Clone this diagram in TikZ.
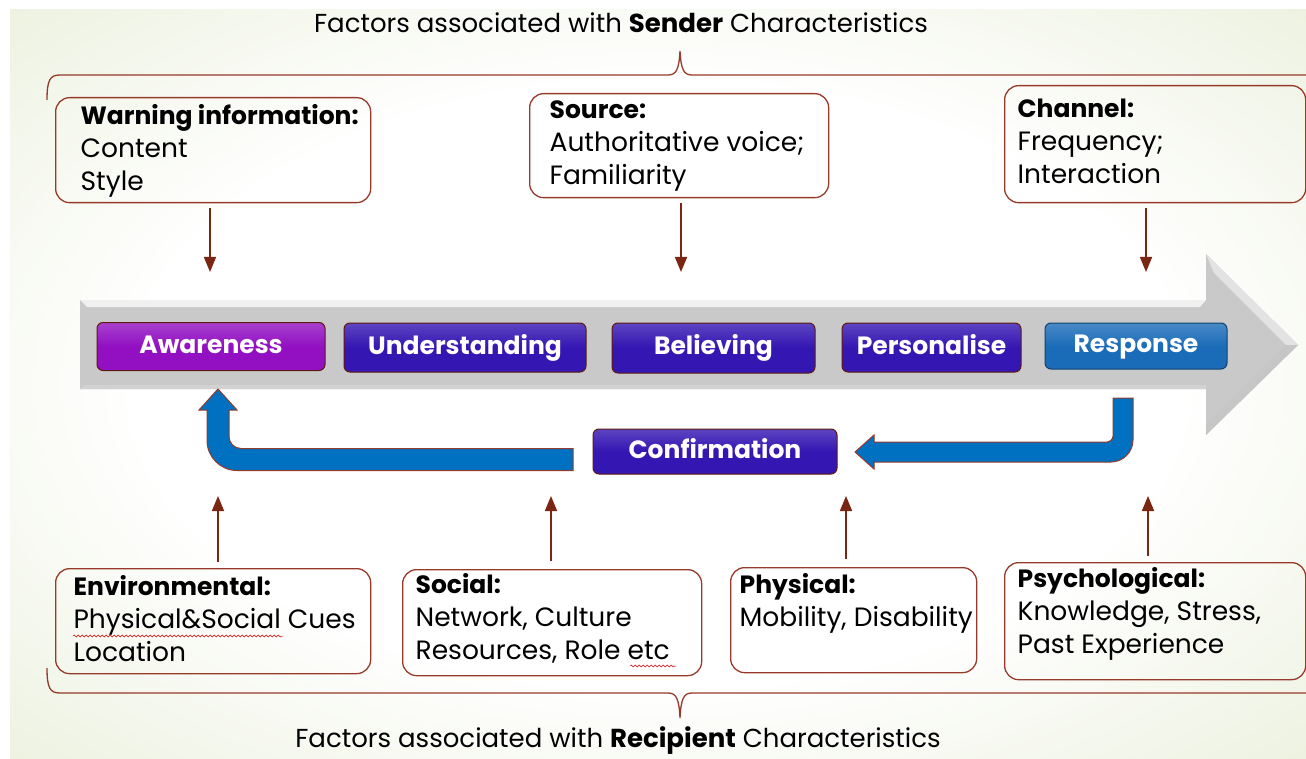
\documentclass[tikz,border=0pt]{standalone}
\usepackage{fontspec}
\setmainfont{Poppins}
\usetikzlibrary{arrows.meta, positioning, calc, decorations.pathmorphing}

\definecolor{brick}{HTML}{963A2A}
\definecolor{arrowred}{HTML}{7B2612}
\definecolor{bggreen}{HTML}{E1E9CC}
\definecolor{stagepurple}{HTML}{9210C2}
\definecolor{stageindigo}{HTML}{3416B2}
\definecolor{stageblue}{HTML}{1B6CB8}
\definecolor{stageedge}{HTML}{5C1A0E}
\definecolor{loopblue}{HTML}{0070C0}
\definecolor{shaftgray}{HTML}{C9C9C9}

\pgfdeclareradialshading{panelglow}{\pgfpoint{0bp}{0bp}}{color(0bp)=(white); color(20bp)=(white); color(46bp)=(bggreen); color(75bp)=(bggreen)}

\newcommand{\factorbody}[3]{\parbox[t][#1][t]{#2}{\raggedright\strut #3}}
\newcommand{\factorhead}[1]{\mbox{\fontsize{25}{33}\selectfont\bfseries #1}}

\tikzset{
  factor/.style={draw=brick, line width=1.3pt, rounded corners=14pt, anchor=north west,
    font=\fontsize{26.5}{33}\selectfont},
  stage/.style={draw=stageedge, line width=1pt, rounded corners=6pt, text=white, inner sep=0pt,
    text height=18pt, text depth=5pt, font=\fontsize{25}{30}\selectfont\bfseries},
  title/.style={anchor=base, font=\fontsize{26}{30}\selectfont},
  factorarrow/.style={draw=arrowred, line width=1.6pt, -{Triangle[length=15pt,width=12pt]}},
  brace/.style={draw=brick, line width=1.3pt},
  loop/.style={fill=loopblue, draw=brick, line width=1pt},
  spellcheck/.style={draw=red!85!black, line width=0.5pt, decorate,
    decoration={snake, amplitude=1pt, segment length=4pt}}
}

\begin{document}
\begin{tikzpicture}[x=1pt,y=-1pt]
	\useasboundingbox (0,0) rectangle (1306,759);
	% Background panel
	\fill[white] (0,0) rectangle (1306,759);
	\shade[shading=panelglow] (10,10) rectangle (1306,759);

	% Sender side: title and brace
	\node[title] (sendertitle) at (621,33) {Factors associated with \textbf{Sender} Characteristics};
	\draw[brace] (47,100) .. controls (47,80) and (50,75) .. (60,75) -- (668,75)
		.. controls (676,75) and (679,70) .. (680,51) .. controls (681,70) and (684,75) .. (692,75) -- (1310,75);

	% Sender factor boxes
	\node[factor, inner xsep=25pt, inner ysep=4pt] (warn) at (55,97)
		{\factorbody{97pt}{265pt}{\factorhead{Warning information:}\\Content\\Style}};
	\node[factor, inner xsep=20pt, inner ysep=2pt] (source) at (529,93)
		{\factorbody{100pt}{259pt}{\factorhead{Source:}\\\mbox{Authoritative voice;}\\Familiarity}};
	\node[factor, inner xsep=13pt, inner ysep=9pt] (channel) at (1004,85)
		{\factorbody{99pt}{275pt}{\factorhead{Channel:}\\Frequency;\\Interaction}};

	% Arrows from the sender factors
	\coordinate (tipW) at (210,272);
	\coordinate (tipS) at (681,272);
	\coordinate (tipC) at (1146,272);
	\draw[factorarrow, shorten <=5pt] (warn.south -| tipW) -- (tipW);
	\draw[factorarrow, shorten <=5pt] (source.south -| tipS) -- (tipS);
	\draw[factorarrow, shorten <=5pt] (channel.south -| tipC) -- (tipC);

	% Big grey process arrow
	\fill[shaftgray] (80,300) -- (1206,300) -- (1206,254) -- (1298,345) -- (1206,435) -- (1206,389) -- (80,389) -- cycle;
	\fill[gray!12] (80,300) -- (1206,300) -- (1200,307) -- (87,307) -- cycle;
	\fill[gray!22] (1206,254) -- (1298,345) -- (1286,345) -- (1214,273) -- cycle;
	\fill[gray!45] (1298,345) -- (1206,435) -- (1206,424) -- (1286,345) -- cycle;
	\fill[gray!35] (80,389) -- (1206,389) -- (1206,385) -- (84,385) -- cycle;

	% Stages
	\node[stage, top color=stagepurple!80!white, bottom color=stagepurple, middle color=stagepurple,
		minimum width=228pt, minimum height=48pt] (aware) at (211,346.5) {Awareness};
	\node[stage, top color=stageindigo!80!white, bottom color=stageindigo, middle color=stageindigo,
		minimum width=242pt, minimum height=49pt] (under) at (465,347.5) {Understanding};
	\node[stage, top color=stageindigo!80!white, bottom color=stageindigo, middle color=stageindigo,
		minimum width=203pt, minimum height=50pt] (believe) at (713.5,348) {Believing};
	\node[stage, top color=stageindigo!80!white, bottom color=stageindigo, middle color=stageindigo,
		minimum width=179pt, minimum height=49pt] (person) at (931.5,347.5) {Personalise};
	\node[stage, draw=stageblue!60!black, top color=stageblue!80!white, bottom color=stageblue, middle color=stageblue,
		minimum width=182pt, minimum height=46pt] (resp) at (1136,346) {Response};
	\node[stage, top color=stageindigo!80!white, bottom color=stageindigo, middle color=stageindigo,
		minimum width=244pt, minimum height=45pt] (confirm) at (715,451.5) {Confirmation};

	% Feedback loops
	\filldraw[loop] (1113,398) -- (1113,436) .. controls (1113,439.3) and (1109.7,442) .. (1107,442) -- (874,442)
		-- (874,435) -- (855,452) -- (874,469) -- (874,462) -- (1111,462)
		.. controls (1123.1,462) and (1133,452.1) .. (1133,440) -- (1133,398) -- cycle;
	\filldraw[loop] (573,448.5) -- (241,448.5) .. controls (234.4,448.5) and (229,443.1) .. (229,436.5) -- (229,410)
		-- (237,410) -- (218,389) -- (199,410) -- (207,410) -- (207,440.5)
		.. controls (207,457) and (220.5,470.5) .. (237,470.5) -- (573,470.5) -- cycle;

	% Recipient factor boxes
	\node[factor, inner xsep=18pt, inner ysep=4pt] (env) at (55,568)
		{\factorbody{97pt}{279pt}{\factorhead{Environmental:}\\\mbox{Physical\&Social Cues}\\Location}};
	\node[factor, inner xsep=13pt, inner ysep=1pt] (social) at (402,569)
		{\factorbody{104pt}{273pt}{\factorhead{Social:}\\Network, Culture\\\mbox{Resources, Role etc}}};
	\node[factor, inner xsep=9pt, inner ysep=3pt] (phys) at (730,567)
		{\factorbody{99pt}{228pt}{\factorhead{Physical:}\\\mbox{Mobility, Disability}}};
	\node[factor, inner xsep=13pt, inner ysep=2pt] (psych) at (1004,562)
		{\factorbody{113pt}{275pt}{\factorhead{Psychological:}\\\mbox{Knowledge, Stress,}\\Past Experience}};

	% Spelling marks
	\draw[spellcheck] (73,636) -- (283,636);
	\draw[spellcheck] (630,666) -- (676,666);

	% Arrows from the recipient factors
	\coordinate (tipE) at (218,496);
	\coordinate (tipSo) at (551,496);
	\coordinate (tipP) at (846,496);
	\coordinate (tipPs) at (1148,496);
	\draw[factorarrow, shorten <=6pt] (env.north -| tipE) -- (tipE);
	\draw[factorarrow, shorten <=8pt] (social.north -| tipSo) -- (tipSo);
	\draw[factorarrow, shorten <=8pt] (phys.north -| tipP) -- (tipP);
	\draw[factorarrow, shorten <=6pt] (psych.north -| tipPs) -- (tipPs);

	% Recipient side: brace and title
	\draw[brace] (47,668) .. controls (47,688) and (50,693) .. (60,693) -- (668,693)
		.. controls (676,693) and (679,698) .. (680,718) .. controls (681,698) and (684,693) .. (692,693) -- (1310,693);
	\node[title] (recipienttitle) at (618,747) {Factors associated with \textbf{Recipient} Characteristics};
\end{tikzpicture}
\end{document}
